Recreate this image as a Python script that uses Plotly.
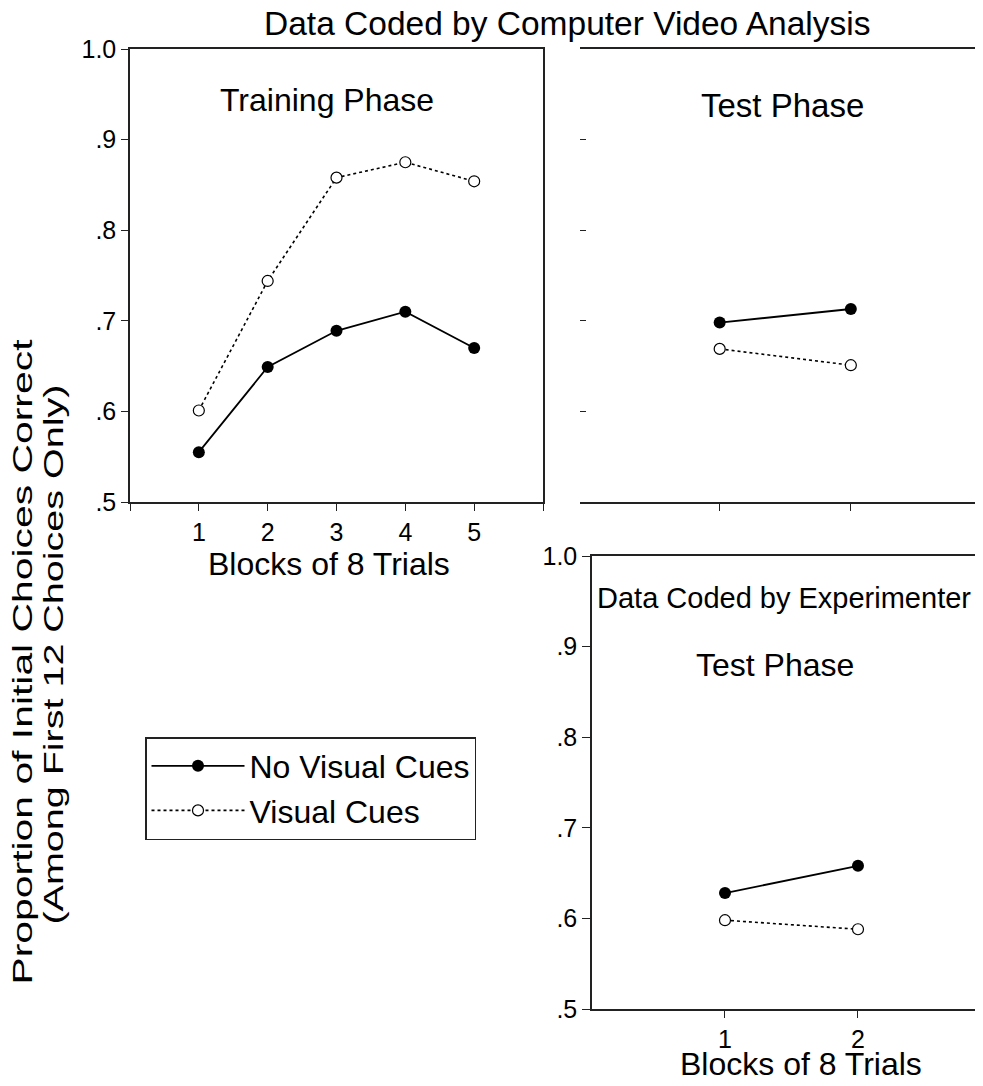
import plotly.graph_objects as go

# ---- data ----
train_blocks = [1, 2, 3, 4, 5]
train_no_cues = [0.555, 0.649, 0.689, 0.710, 0.670]
train_cues = [0.601, 0.744, 0.858, 0.875, 0.854]

test_blocks = [1, 2]
test_video_no_cues = [0.698, 0.713]
test_video_cues = [0.669, 0.651]

test_exp_no_cues = [0.628, 0.658]
test_exp_cues = [0.598, 0.588]

y_tickvals = [0.5, 0.6, 0.7, 0.8, 0.9, 1.0]
y_ticktext = [".5", ".6", ".7", ".8", ".9", "1.0"]

W, H = 983, 1086
OFF = 8  # page body margin
FONT = "Liberation Sans, Arial, sans-serif"
LINE_C = "#222"

def px(x):
    return (x - OFF) / W

def py(y):
    return 1 - (y - OFF) / H

fig = go.Figure()

def add_pair(xs, no_cues, cues, xa, ya, show):
    fig.add_trace(go.Scatter(
        x=xs, y=no_cues, mode="lines+markers", name="No Visual Cues",
        line=dict(color="black", width=1.8, dash="solid"),
        marker=dict(symbol="circle", size=12, color="black"),
        xaxis=xa, yaxis=ya, showlegend=show, legendrank=1))
    fig.add_trace(go.Scatter(
        x=xs, y=cues, mode="lines+markers", name="Visual Cues",
        line=dict(color="black", width=1.6, dash="dot"),
        marker=dict(symbol="circle", size=11, color="white",
                    line=dict(color="black", width=1.2)),
        xaxis=xa, yaxis=ya, showlegend=show, legendrank=2))

add_pair(train_blocks, train_no_cues, train_cues, "x", "y", True)
add_pair(test_blocks, test_video_no_cues, test_video_cues, "x2", "y2", False)
add_pair(test_blocks, test_exp_no_cues, test_exp_cues, "x3", "y3", False)

tickfont = dict(family=FONT, size=25, color="black")
common_ax = dict(showgrid=False, zeroline=False, linecolor=LINE_C, linewidth=1.5,
                 tickcolor=LINE_C, tickwidth=1.2, tickfont=tickfont, automargin=False)

fig.update_layout(
    width=W, height=H,
    margin=dict(l=0, r=0, t=0, b=0, autoexpand=False),
    paper_bgcolor="white", plot_bgcolor="white",
    font=dict(family=FONT, color="black"),
    xaxis=dict(domain=[px(130), px(543)], range=[0, 6], anchor="y",
               tickvals=[0, 1, 2, 3, 4, 5, 6], ticktext=["", "1", "2", "3", "4", "5", ""],
               ticks="outside", ticklen=7, showline=True, mirror=True, **common_ax),
    yaxis=dict(domain=[py(502), py(49)], range=[0.5, 1.0], anchor="x",
               tickvals=y_tickvals, ticktext=y_ticktext,
               ticks="outside", ticklen=7, showline=True, mirror=True, **common_ax),
    xaxis2=dict(domain=[px(580), px(982)], range=[-0.065, 3.0], anchor="y2",
                tickvals=[1, 2, 3], ticktext=["", "", ""],
                ticks="outside", ticklen=7, showline=True, mirror=True, **common_ax),
    yaxis2=dict(domain=[py(502), py(49)], range=[0.5, 1.0], anchor="x2",
                tickvals=[0.6, 0.7, 0.8, 0.9], ticktext=["", "", "", ""],
                ticks="inside", ticklen=6, showline=False, **common_ax),
    xaxis3=dict(domain=[px(592), px(983)], range=[0, 2.94], anchor="y3",
                tickvals=[1, 2], ticktext=["1", "2"],
                ticks="outside", ticklen=7, showline=True, mirror=True, **common_ax),
    yaxis3=dict(domain=[py(1009), py(556)], range=[0.5, 1.0], anchor="x3",
                tickvals=y_tickvals, ticktext=y_ticktext,
                ticks="outside", ticklen=8, showline=True, mirror=False, **common_ax),
    legend=dict(x=px(145), y=py(737), xanchor="left", yanchor="top",
                bordercolor=LINE_C, borderwidth=1.5, bgcolor="white",
                font=dict(family=FONT, size=32, color="black"),
                tracegroupgap=0, itemwidth=93),
)

# right border of the top-right panel
fig.add_shape(type="line", xref="x2 domain", yref="y2 domain", x0=1, x1=1, y0=0, y1=1,
              line=dict(color=LINE_C, width=1.5))

def ann(text, x, y, size, angle=0):
    fig.add_annotation(text=text, x=px(x), y=py(y), xref="paper", yref="paper",
                       xanchor="center", yanchor="middle", showarrow=False,
                       textangle=angle, font=dict(family=FONT, size=size, color="black"))

ann("Data Coded by Computer Video Analysis", 567, 24, 33.5)
ann("Training Phase", 327, 100, 32)
ann("Test Phase", 782, 105, 33)
ann("Blocks of 8 Trials", 329, 564, 32)
ann("Data Coded by Experimenter", 784, 598, 29)
ann("Test Phase", 775, 665, 32)
ann("Blocks of 8 Trials", 801, 1064, 32)
ann("Proportion of Initial Choices Correct", 22, 662, 28, angle=-90)
ann("(Among First 12 Choices Only)", 53, 655, 28, angle=-90)

# the original rotated axis label is set in a horizontally stretched face;
# stretch the two label lines to the lengths seen in the reference
post_js = """
var gd = document.getElementById('{plot_id}');
var lens = {'Proportion of Initial Choices Correct': 645, '(Among First 12 Choices Only)': 540};
gd.querySelectorAll('text.annotation-text').forEach(function(t){
  var s = t.textContent;
  if (lens[s]) {
    t.setAttribute('textLength', lens[s]);
    t.setAttribute('lengthAdjust', 'spacingAndGlyphs');
  }
});
"""

fig.write_html("out.html", post_script=post_js)
